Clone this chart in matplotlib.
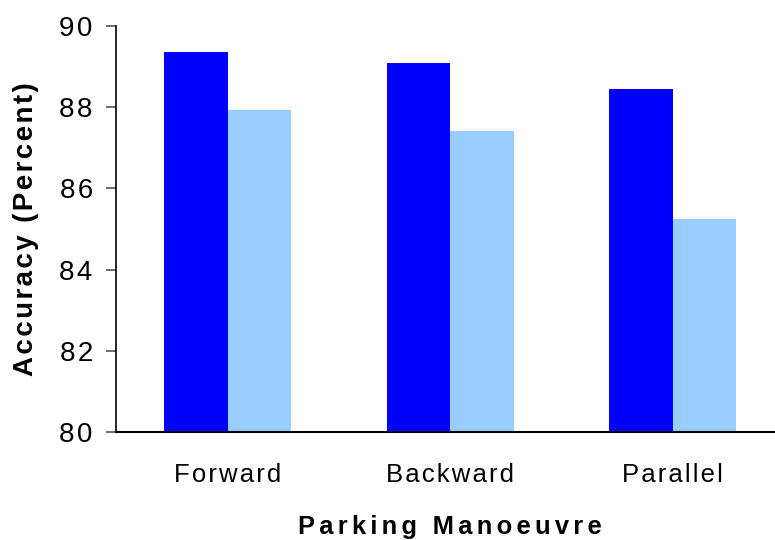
import numpy as np
import matplotlib
matplotlib.use("Agg")
import matplotlib.pyplot as plt

categories = ["Forward", "Backward", "Parallel"]
series_a = [89.35, 89.08, 88.44]
series_b = [87.92, 87.42, 85.25]
yticks = [80, 82, 84, 86, 88, 90]

plt.rcParams["font.family"] = ["Liberation Sans", "DejaVu Sans"]

HAIR = "\u200a"
SIXTH = "\u2006"


def spaced(s, sp=HAIR):
    # old-style loose letter spacing
    return sp.join(s)


fig = plt.figure(figsize=(7.75, 5.4), dpi=100)
ax = fig.add_axes([0.1503, 0.1994, 0.861, 0.753])

x = np.arange(len(categories))
w = 0.285
ax.bar(x - w / 2, series_a, width=w, color="#0000FF", linewidth=0)
ax.bar(x + w / 2, series_b, width=w, color="#99CCFF", linewidth=0)

ax.set_xlim(-0.5, 2.5)
ax.set_ylim(80, 90)
ax.set_yticks(yticks)
ax.set_yticklabels([spaced(str(v)) for v in yticks])
ax.set_xticks(x)
ax.set_xticklabels([spaced(c) for c in categories])
ax.tick_params(axis="y", direction="out", length=7, width=1.2, color="#555555",
               labelsize=20, pad=10)
ax.tick_params(axis="x", length=0, labelsize=18.5, pad=22)
for s in ["top", "right"]:
    ax.spines[s].set_visible(False)
ax.spines["left"].set_linewidth(1.2)
ax.spines["bottom"].set_linewidth(1.5)

ax.set_ylabel(spaced("Accuracy (Percent)"), fontsize=20, fontweight="bold",
              va="center", ha="center")
ax.yaxis.set_label_coords(-0.136, 0.5)
ax.set_xlabel(spaced("Parking Manoeuvre", SIXTH), fontsize=18.4, fontweight="bold",
              va="center", ha="center")
ax.xaxis.set_label_coords(0.5, -0.234)

fig.savefig("out.png", dpi=100)
